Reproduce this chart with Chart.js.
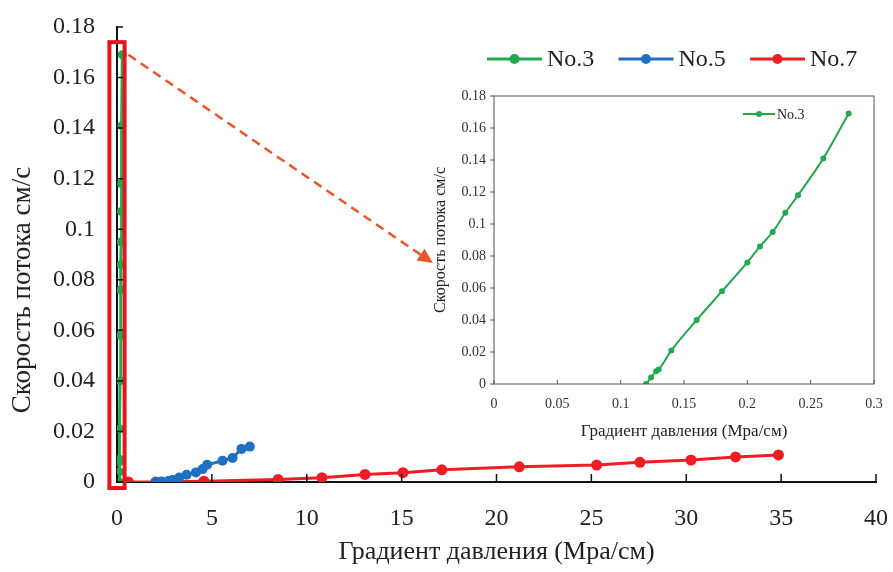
<!DOCTYPE html>
<html lang="ru">
<head>
  <meta charset="UTF-8">
  <title>Скорость потока vs градиент давления</title>
  <script src="https://cdn.jsdelivr.net/npm/chart.js@4"></script>
  <style>
    body { margin: 0; background: #fff; }
    #wrap { position: relative; width: 893px; height: 572px; }
    #main { position: absolute; left: 0; top: 0; }
    #inset { position: absolute; left: 425px; top: 85px; }
  </style>
</head>
<body>
  <div id="wrap">
    <canvas id="main" width="893" height="572"></canvas>
    <canvas id="inset" width="460" height="360"></canvas>
  </div>

  <script>
    // values
    const seriesNames = ["No.3", "No.5", "No.7"];

    const x3 = [0.12, 0.124, 0.128, 0.13, 0.14, 0.16, 0.18, 0.20, 0.21, 0.22, 0.23, 0.24, 0.26, 0.28];
    const y3 = [0, 0.004, 0.008, 0.009, 0.021, 0.040, 0.058, 0.076, 0.086, 0.095, 0.107, 0.118, 0.141, 0.169];

    const x5 = [2.04, 2.35, 2.7, 2.93, 3.28, 3.67, 4.16, 4.51, 4.75, 5.56, 6.09, 6.56, 7.0];
    const y5 = [0, 0.0002, 0.0004, 0.0008, 0.0018, 0.0029, 0.0038, 0.0051, 0.0068, 0.0084, 0.0095, 0.0131, 0.014];

    const x7 = [0.6, 2.05, 4.58, 8.49, 10.8, 13.07, 15.07, 17.12, 21.2, 25.28, 27.56, 30.25, 32.6, 34.86];
    const y7 = [0, 0, 0.0003, 0.001, 0.0017, 0.003, 0.0037, 0.0048, 0.006, 0.0067, 0.0078, 0.0087, 0.0099, 0.0107];

    const xTitle = "Градиент давления (Mpa/см)";
    const yTitle = "Скорость потока см/с";

    const colors = ["#22a94f", "#1f6fc2", "#ee1d23"];
    const serif = '"Liberation Serif", "Times New Roman", serif';

    const pts = (xs, ys) => xs.map((v, i) => ({ x: v, y: ys[i] }));
    const fmt = v => String(Math.round(v * 1000) / 1000);

    // tick marks drawn on the axes (inside / outside)
    const axisTicks = {
      id: 'axisTicks',
      afterDraw(chart, args, o) {
        const { ctx, chartArea: a, scales: { x, y } } = chart;
        ctx.save();
        ctx.strokeStyle = o.color;
        ctx.lineWidth = o.width;
        ctx.beginPath();
        x.ticks.forEach(t => {
          const px = x.getPixelForValue(t.value);
          ctx.moveTo(px, a.bottom);
          ctx.lineTo(px, a.bottom - o.xLen);
        });
        y.ticks.forEach(t => {
          const py = y.getPixelForValue(t.value);
          ctx.moveTo(a.left, py);
          ctx.lineTo(a.left + o.yLen, py);
        });
        ctx.stroke();
        if (o.box) {
          ctx.strokeRect(a.left, a.top, a.right - a.left, a.bottom - a.top);
        }
        ctx.restore();
      }
    };

    // line + dot legend
    const dotLegend = {
      id: 'dotLegend',
      afterDraw(chart, args, o) {
        const ctx = chart.ctx;
        ctx.save();
        ctx.font = o.font;
        ctx.textBaseline = 'middle';
        chart.data.datasets.forEach((ds, i) => {
          const x0 = o.x + i * o.step;
          ctx.strokeStyle = ds.borderColor;
          ctx.lineWidth = o.lineWidth;
          ctx.beginPath();
          ctx.moveTo(x0, o.y);
          ctx.lineTo(x0 + o.len, o.y);
          ctx.stroke();
          ctx.fillStyle = ds.borderColor;
          ctx.beginPath();
          ctx.arc(x0 + o.len / 2, o.y, o.r, 0, Math.PI * 2);
          ctx.fill();
          ctx.fillStyle = '#222';
          ctx.fillText(ds.label, x0 + o.len + o.gap, o.y + 1);
        });
        ctx.restore();
      }
    };

    // rotated y title, sits a bit below the middle of the axis in the picture
    const sideTitle = {
      id: 'sideTitle',
      afterDraw(chart, args, o) {
        const ctx = chart.ctx;
        ctx.save();
        ctx.translate(o.x, o.y);
        ctx.rotate(-Math.PI / 2);
        ctx.font = o.font;
        ctx.fillStyle = '#222';
        ctx.textAlign = 'center';
        ctx.textBaseline = 'middle';
        ctx.fillText(o.text, 0, 0);
        ctx.restore();
      }
    };

    // red frame round the No.3 data and dashed arrow towards the inset (in data units)
    const zoomFrame = { x0: -0.4, x1: 0.4, y0: -0.0024, y1: 0.174 };
    const zoomArrow = { x0: 0.6, y0: 0.169, x1: 16.65, y1: 0.0866 };

    const zoomMark = {
      id: 'zoomMark',
      afterDatasetsDraw(chart) {
        const { ctx, scales: { x, y } } = chart;
        ctx.save();
        const l = x.getPixelForValue(zoomFrame.x0), r = x.getPixelForValue(zoomFrame.x1);
        const t = y.getPixelForValue(zoomFrame.y1), b = y.getPixelForValue(zoomFrame.y0);
        ctx.strokeStyle = '#e8141b';
        ctx.lineWidth = 4;
        ctx.strokeRect(l, t, r - l, b - t);

        const ax = x.getPixelForValue(zoomArrow.x0), ay = y.getPixelForValue(zoomArrow.y0);
        const bx = x.getPixelForValue(zoomArrow.x1), by = y.getPixelForValue(zoomArrow.y1);
        const ang = Math.atan2(by - ay, bx - ax);
        const head = 15;
        const ex = bx - head * Math.cos(ang), ey = by - head * Math.sin(ang);
        ctx.strokeStyle = '#e9562c';
        ctx.fillStyle = '#e9562c';
        ctx.lineWidth = 2.5;
        ctx.setLineDash([9, 6]);
        ctx.beginPath();
        ctx.moveTo(ax, ay);
        ctx.lineTo(ex, ey);
        ctx.stroke();
        ctx.setLineDash([]);
        ctx.beginPath();
        ctx.moveTo(bx, by);
        ctx.lineTo(ex + 7 * Math.sin(ang), ey - 7 * Math.cos(ang));
        ctx.lineTo(ex - 7 * Math.sin(ang), ey + 7 * Math.cos(ang));
        ctx.closePath();
        ctx.fill();
        ctx.restore();
      }
    };

    function lineSet(label, data, color, r, w) {
      return {
        label: label,
        data: data,
        showLine: true,
        borderColor: color,
        backgroundColor: color,
        borderWidth: w,
        pointRadius: r,
        pointBorderWidth: 0,
        pointBackgroundColor: color
      };
    }

    // pin the scale sizes so the plot area lands where it does in the picture
    const fitX = h => s => { s.height = h; s.paddingLeft = 0; s.paddingRight = 0; };
    const fitY = w => s => { s.width = w; s.paddingTop = 0; s.paddingBottom = 0; };

    new Chart(document.getElementById('main'), {
      type: 'scatter',
      data: {
        datasets: [
          lineSet(seriesNames[0], pts(x3, y3), colors[0], 4.5, 3),
          lineSet(seriesNames[1], pts(x5, y5), colors[1], 5, 3),
          lineSet(seriesNames[2], pts(x7, y7), colors[2], 5.5, 3)
        ]
      },
      options: {
        responsive: false,
        animation: false,
        devicePixelRatio: 1,
        layout: { padding: { top: 27, right: 17, left: 0, bottom: 0 } },
        plugins: {
          legend: { display: false },
          tooltip: { enabled: false },
          axisTicks: { color: '#111', width: 1.5, xLen: 8, yLen: 6, box: false },
          dotLegend: { x: 487, y: 59, step: 131.5, len: 55, gap: 5, r: 5, lineWidth: 3, font: '24px ' + serif },
          sideTitle: { text: yTitle, x: 23, y: 290, font: '27px ' + serif }
        },
        scales: {
          x: {
            type: 'linear',
            min: 0, max: 40,
            afterFit: fitX(90),
            grid: { display: false, drawTicks: false },
            border: { display: true, color: '#111', width: 2 },
            ticks: { stepSize: 5, padding: 22, color: '#222', font: { family: serif, size: 24 }, callback: fmt },
            title: { display: true, text: xTitle, color: '#222', font: { family: serif, size: 26 }, padding: { top: 0, bottom: 4 } }
          },
          y: {
            type: 'linear',
            min: 0, max: 0.18,
            afterFit: fitY(117),
            grid: { display: false, drawTicks: false },
            border: { display: true, color: '#111', width: 2 },
            ticks: { stepSize: 0.02, padding: 22, color: '#222', font: { family: serif, size: 24 }, callback: fmt },
            title: { display: false }
          }
        }
      },
      plugins: [axisTicks, zoomMark, dotLegend, sideTitle]
    });

    const insetSet = lineSet(seriesNames[0], pts(x3, y3), colors[0], 3, 2);
    insetSet.tension = 0.3;
    insetSet.cubicInterpolationMode = 'monotone';

    new Chart(document.getElementById('inset'), {
      type: 'scatter',
      data: { datasets: [insetSet] },
      options: {
        responsive: false,
        animation: false,
        devicePixelRatio: 1,
        layout: { padding: { top: 11, right: 11, left: 0, bottom: 0 } },
        plugins: {
          legend: { display: false },
          tooltip: { enabled: false },
          axisTicks: { color: '#555', width: 1, xLen: 4, yLen: -4, box: true },
          dotLegend: { x: 318, y: 29, step: 0, len: 32, gap: 2, r: 3, lineWidth: 2, font: '14px ' + serif }
        },
        scales: {
          x: {
            type: 'linear',
            min: 0, max: 0.3,
            afterFit: fitX(61),
            grid: { display: false, drawTicks: false },
            border: { display: false },
            ticks: { stepSize: 0.05, padding: 12, color: '#333', font: { family: serif, size: 14 }, callback: fmt },
            title: { display: true, text: xTitle, color: '#222', font: { family: serif, size: 17 }, padding: { top: 0, bottom: 3 } }
          },
          y: {
            type: 'linear',
            min: 0, max: 0.18,
            afterFit: fitY(69),
            grid: { display: false, drawTicks: false },
            border: { display: false },
            ticks: { stepSize: 0.02, padding: 8, color: '#333', font: { family: serif, size: 14 }, callback: fmt },
            title: { display: true, text: yTitle, color: '#222', font: { family: serif, size: 16 }, padding: { top: 6, bottom: 0 } }
          }
        }
      },
      plugins: [axisTicks, dotLegend]
    });
  </script>
</body>
</html>
